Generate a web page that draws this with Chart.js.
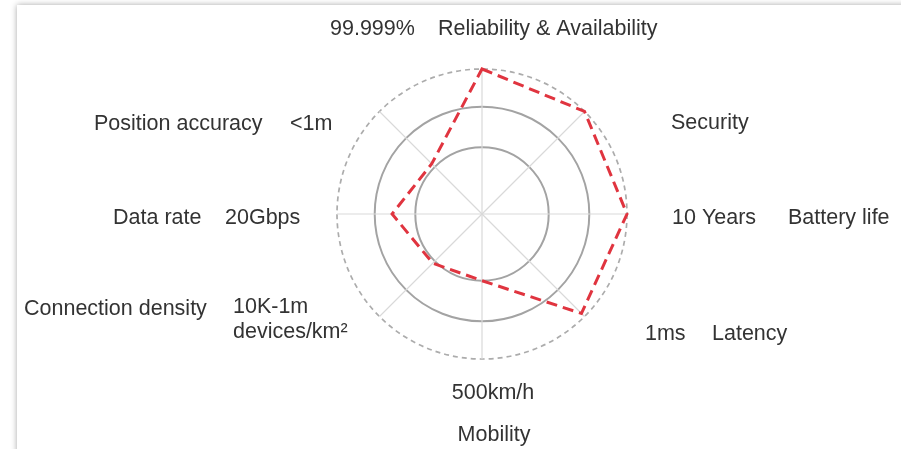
<!DOCTYPE html>
<html>
<head>
<meta charset="utf-8">
<script src="https://cdn.jsdelivr.net/npm/chart.js@4"></script>
<style>
  html, body { margin: 0; padding: 0; background: #fff; overflow: hidden; }
  #panel {
    position: absolute; left: 17px; top: 5px; width: 1000px; height: 1000px;
    background: #fff; box-shadow: 0 0 6px rgba(0, 0, 0, 0.35);
  }
  #radar { position: absolute; left: 0; top: 0; }
</style>
</head>
<body>
<div id="panel"></div>
<canvas id="radar" width="901" height="449"></canvas>
<script>
// axes, clockwise from the top
const categories = ['Reliability & Availability', 'Security', 'Battery life', 'Latency',
                    'Mobility', 'Connection density', 'Data rate', 'Position accuracy'];
const targetTexts = ['99.999%', '', '10 Years', '1ms', '500km/h', '10K-1m\ndevices/km\u00b2', '20Gbps', '<1m'];
const scores = [100, 100, 100, 97, 46, 48, 62, 49];
const rings = [0, 46, 74, 100];

// where each name / target text sits, as offsets from the radar centre
const spots = [
    { name: [-44, -185], target: [-152, -185] },
    { name: [189, -91] },
    { name: [306, 4], target: [190, 4] },
    { name: [230, 120], target: [163, 120] },
    { name: [12, 221, 'center'], target: [11, 179, 'center'] },
    { name: [-458, 95], target: [-249, 93] },
    { name: [-369, 4], target: [-257, 4] },
    { name: [-388, -90], target: [-192, -90] }
];

const labelPlugin = {
    id: 'sideLabels',
    afterDraw(chart) {
        const ctx = chart.ctx;
        const r = chart.scales.r;
        ctx.save();
        ctx.font = '21.5px "Liberation Sans", Arial, sans-serif';
        ctx.fillStyle = '#333333';
        ctx.textBaseline = 'middle';
        const put = (text, spot) => {
            if (!text || !spot) return;
            ctx.textAlign = spot[2] || 'left';
            text.split('\n').forEach((line, k) => {
                ctx.fillText(line, r.xCenter + spot[0], r.yCenter + spot[1] + k * 25);
            });
        };
        categories.forEach((name, i) => {
            put(name, spots[i].name);
            put(targetTexts[i], spots[i].target);
        });
        ctx.restore();
    }
};

new Chart(document.getElementById('radar'), {
    type: 'radar',
    data: {
        labels: categories,
        datasets: [{
            data: scores,
            borderColor: '#e0343f',
            borderWidth: 3,
            borderDash: [11, 6],
            borderJoinStyle: 'miter',
            backgroundColor: 'transparent',
            fill: false,
            pointRadius: 0,
            pointHoverRadius: 0
        }]
    },
    options: {
        responsive: false,
        animation: false,
        layout: { padding: { left: 337, right: 274, top: 69, bottom: 90 } },
        plugins: { legend: { display: false }, tooltip: { enabled: false } },
        scales: {
            r: {
                min: 0,
                max: 100,
                afterBuildTicks: scale => { scale.ticks = rings.map(v => ({ value: v })); },
                ticks: { display: false },
                pointLabels: { display: false },
                angleLines: { color: '#d9d9d9', lineWidth: 1.2 },
                grid: {
                    circular: true,
                    color: c => c.index === rings.length - 1 ? '#acacac' : '#a3a3a3',
                    lineWidth: c => c.index === rings.length - 1 ? 1.7 : 2
                },
                border: {
                    dash: c => c.index === rings.length - 1 ? [5, 4] : []
                }
            }
        }
    },
    plugins: [labelPlugin]
});
</script>
</body>
</html>
